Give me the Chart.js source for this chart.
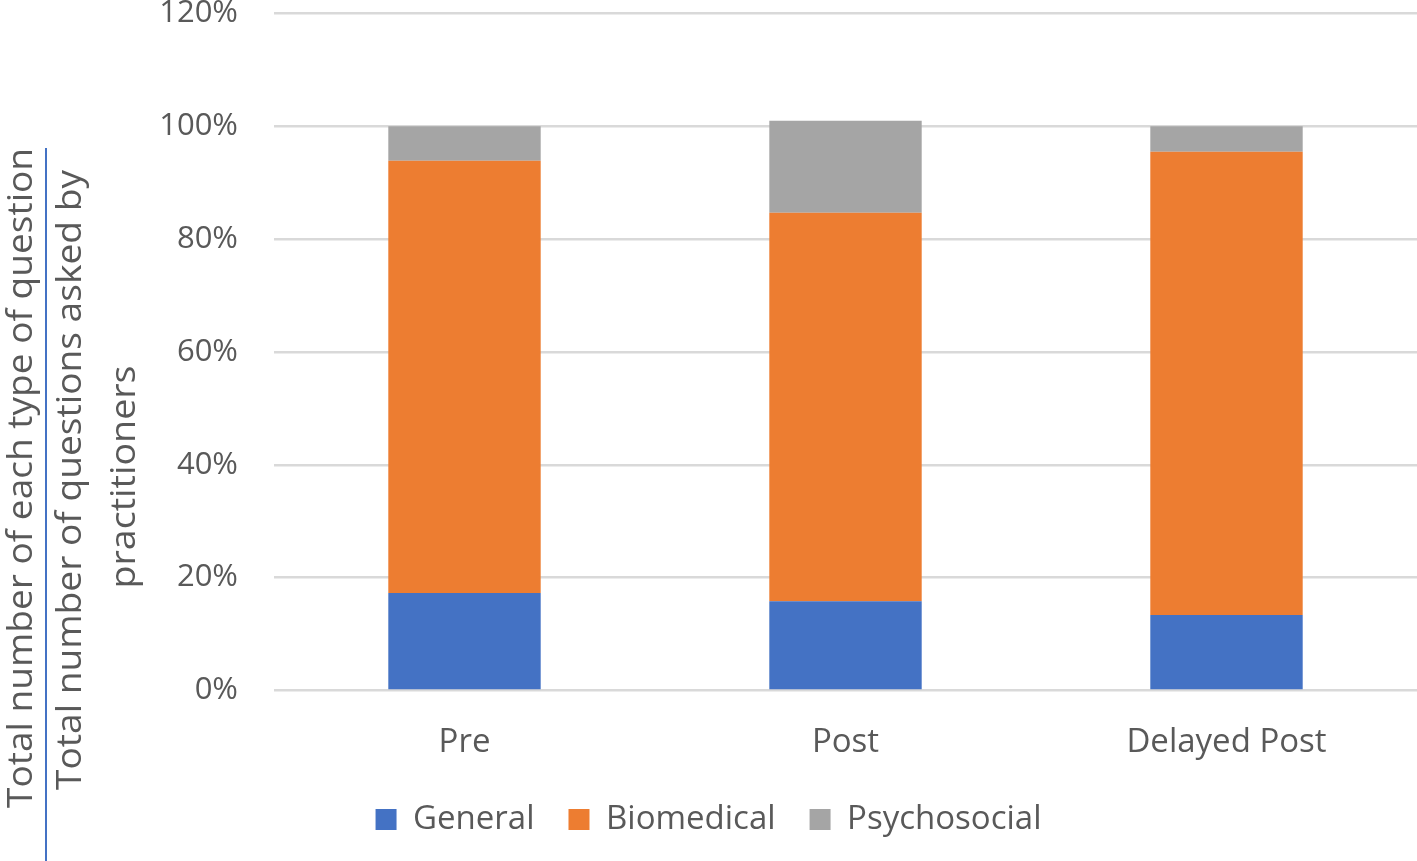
<!DOCTYPE html>
<html>
<head>
<meta charset="utf-8">
<script src="https://cdn.jsdelivr.net/npm/chart.js@4.4.1/dist/chart.umd.min.js"></script>
<style>
  html, body { margin: 0; padding: 0; background: #fff; }
  #wrap { width: 1417px; height: 861px; position: relative; }
</style>
</head>
<body>
<div id="wrap"><canvas id="grafico"></canvas></div>
<script>
// Dados (% do total de perguntas)
const categorias = ["Pre", "Post", "Delayed Post"];
const geral = [17.3, 15.8, 13.4];
const biomedica = [76.6, 68.9, 82.1];
const psicossocial = [6.1, 16.3, 4.5];
const ticksY = [0, 20, 40, 60, 80, 100, 120];

const tituloCima = "Total number of each type of question";
const tituloBaixo = ["Total number of questions asked by", "practitioners"];

const corTexto = "#595959";
const fonte = "'Open Sans', 'Liberation Sans', sans-serif";

// escreve um texto girado, esticado para ocupar o comprimento desejado
function textoVertical(ctx, texto, x, y, comprimento) {
  const w = ctx.measureText(texto).width;
  ctx.save();
  ctx.translate(x, y);
  ctx.rotate(-Math.PI / 2);
  ctx.scale(comprimento / w, 1);
  ctx.fillText(texto, 0, 0);
  ctx.restore();
}

// Título do eixo Y em forma de fração (texto / linha / texto)
const tituloFracao = {
  id: "tituloFracao",
  afterDraw(chart) {
    const ctx = chart.ctx;
    ctx.save();
    ctx.fillStyle = corTexto;
    ctx.textAlign = "center";
    ctx.textBaseline = "middle";
    ctx.font = "35px " + fonte;

    textoVertical(ctx, tituloCima, 22, 478, 660);
    textoVertical(ctx, tituloBaixo[0], 71, 480, 620);
    textoVertical(ctx, tituloBaixo[1], 125, 477, 223);

    ctx.strokeStyle = "#4472C4";
    ctx.lineWidth = 2;
    ctx.beginPath();
    ctx.moveTo(46, 148);
    ctx.lineTo(46, 861);
    ctx.stroke();
    ctx.restore();
  }
};

new Chart(document.getElementById("grafico"), {
  type: "bar",
  data: {
    labels: categorias,
    datasets: [
      { label: "General", data: geral, backgroundColor: "#4472C4" },
      { label: "Biomedical", data: biomedica, backgroundColor: "#ED7D31" },
      { label: "Psychosocial", data: psicossocial, backgroundColor: "#A5A5A5" }
    ]
  },
  options: {
    responsive: true,
    maintainAspectRatio: false,
    animation: false,
    layout: { padding: { top: 0, right: 0, left: 0, bottom: 15 } },
    datasets: { bar: { barPercentage: 0.4, categoryPercentage: 1 } },
    plugins: {
      tooltip: { enabled: false },
      legend: {
        position: "bottom",
        labels: {
          color: corTexto,
          font: { family: fonte, size: 33 },
          boxWidth: 21,
          boxHeight: 21,
          padding: 34
        }
      }
    },
    scales: {
      x: {
        stacked: true,
        grid: { display: false },
        border: { display: false },
        afterFit: s => { s.height = 78.5; },
        ticks: { color: corTexto, font: { family: fonte, size: 33 }, padding: 24.5 }
      },
      y: {
        stacked: true,
        min: 0,
        max: 120,
        afterBuildTicks: s => { s.ticks = ticksY.map(v => ({ value: v })); },
        afterFit: s => { s.width = 274; },
        grid: { color: "#d9d9d9", lineWidth: 2.5, drawTicks: true, tickLength: 36, tickColor: "rgba(0,0,0,0)" },
        border: { display: false },
        ticks: {
          color: corTexto,
          font: { family: fonte, size: 31, lineHeight: 0.87 },
          padding: 0,
          callback: v => v + "%"
        }
      }
    }
  },
  plugins: [tituloFracao]
});
</script>
</body>
</html>
